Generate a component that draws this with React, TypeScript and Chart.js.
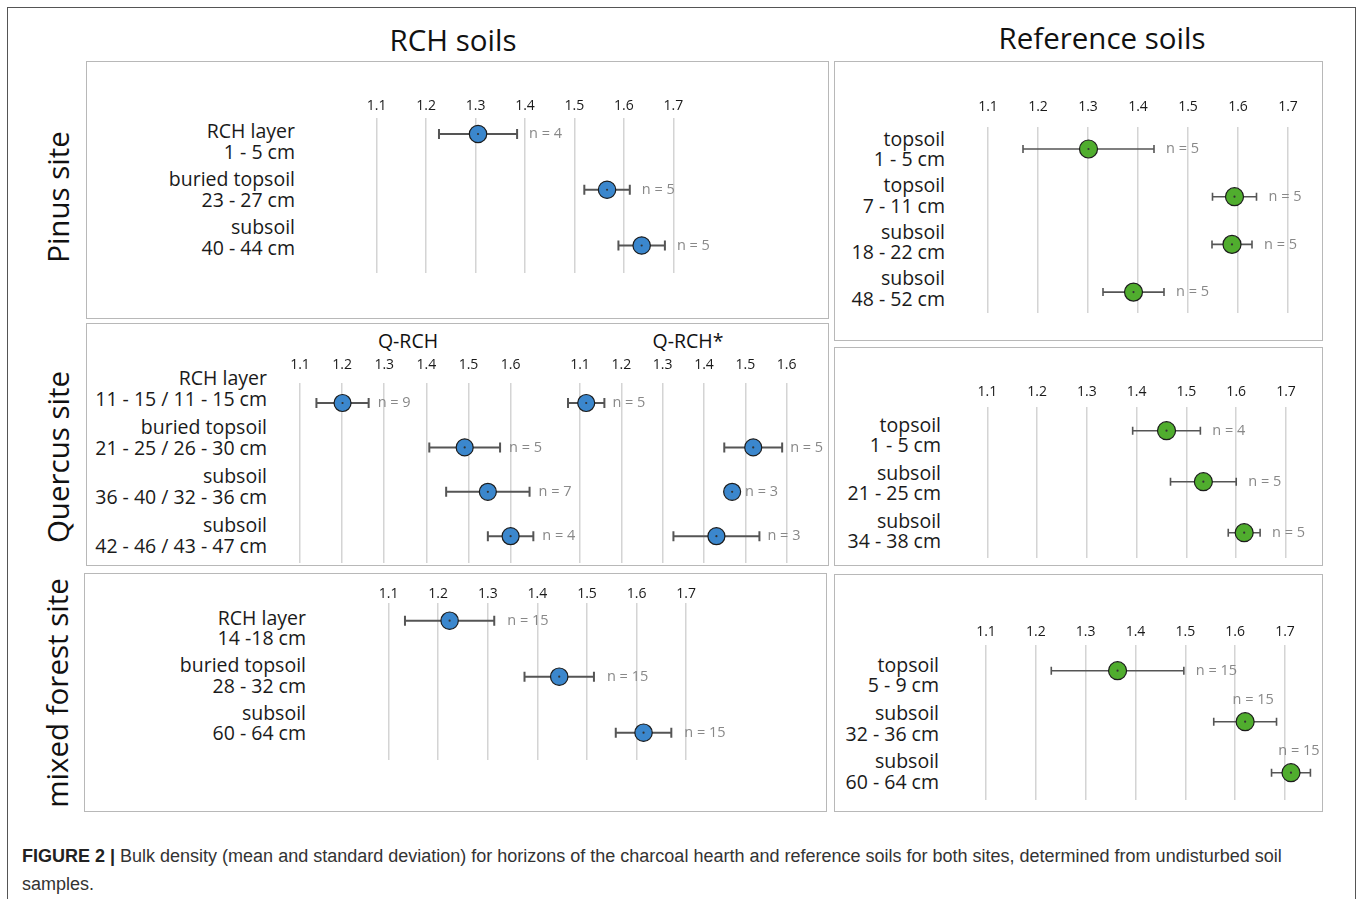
import React, { useEffect, useRef } from 'react';
import { Chart, registerables } from 'chart.js';

Chart.register(...registerables);

// ---------------- DATA ----------------
const ticks17 = [1.1, 1.2, 1.3, 1.4, 1.5, 1.6, 1.7];
const ticks16 = [1.1, 1.2, 1.3, 1.4, 1.5, 1.6];

// Pinus site – RCH soils
const pinusRchHorizons = ['RCH layer', 'buried topsoil', 'subsoil'];
const pinusRchDepths = ['1 - 5 cm', '23 - 27 cm', '40 - 44 cm'];
const pinusRchMean = [1.305, 1.566, 1.636];
const pinusRchSd = [0.079, 0.046, 0.047];
const pinusRchN = [4, 5, 5];

// Pinus site – reference soils
const pinusRefHorizons = ['topsoil', 'topsoil', 'subsoil', 'subsoil'];
const pinusRefDepths = ['1 - 5 cm', '7 - 11 cm', '18 - 22 cm', '48 - 52 cm'];
const pinusRefMean = [1.301, 1.593, 1.588, 1.391];
const pinusRefSd = [0.131, 0.044, 0.04, 0.061];
const pinusRefN = [5, 5, 5, 5];

// Quercus site – RCH soils (Q-RCH and Q-RCH*)
const quercusRchHorizons = ['RCH layer', 'buried topsoil', 'subsoil', 'subsoil'];
const quercusRchDepths = ['11 - 15 / 11 - 15 cm', '21 - 25 / 26 - 30 cm', '36 - 40 / 32 - 36 cm', '42 - 46 / 43 - 47 cm'];
const qRchMean = [1.201, 1.491, 1.546, 1.6];
const qRchSd = [0.062, 0.084, 0.099, 0.054];
const qRchN = [9, 5, 7, 4];
const qRchStarMean = [1.115, 1.519, 1.468, 1.43];
const qRchStarSd = [0.044, 0.07, 0.012, 0.104];
const qRchStarN = [5, 5, 3, 3];

// Quercus site – reference soils
const quercusRefHorizons = ['topsoil', 'subsoil', 'subsoil'];
const quercusRefDepths = ['1 - 5 cm', '21 - 25 cm', '34 - 38 cm'];
const quercusRefMean = [1.46, 1.534, 1.616];
const quercusRefSd = [0.068, 0.066, 0.032];
const quercusRefN = [4, 5, 5];

// mixed forest site – RCH soils
const mixedRchHorizons = ['RCH layer', 'buried topsoil', 'subsoil'];
const mixedRchDepths = ['14 -18 cm', '28 - 32 cm', '60 - 64 cm'];
const mixedRchMean = [1.223, 1.444, 1.614];
const mixedRchSd = [0.09, 0.07, 0.056];
const mixedRchN = [15, 15, 15];

// mixed forest site – reference soils
const mixedRefHorizons = ['topsoil', 'subsoil', 'subsoil'];
const mixedRefDepths = ['5 - 9 cm', '32 - 36 cm', '60 - 64 cm'];
const mixedRefMean = [1.364, 1.62, 1.712];
const mixedRefSd = [0.133, 0.063, 0.039];
const mixedRefN = [15, 15, 15];
const mixedRefNPos = ['right', 'above', 'above'];

// ---------------- STYLE / LAYOUT ----------------
const BLUE = '#3b87cd';
const GREEN = '#50ad2e';
const FONT = '"Open Sans", "Noto Sans", sans-serif';

type Panel = {
  mean: number[]; sd: number[]; n: number[]; nPos?: string[];
  ticks: number[]; color: string; radius: number; barW: number; cap: number; nGap: number;
  x0px: number; x1px: number; tickY: number; gridTop: number; gridBottom: number;
  rowTop: number; rowStep: number;
};

const pinusRchPanel: Panel = {
  mean: pinusRchMean, sd: pinusRchSd, n: pinusRchN, ticks: ticks17, color: BLUE, radius: 8.7, barW: 2, cap: 5, nGap: 12,
  x0px: 376.7, x1px: 673.3, tickY: 106.5, gridTop: 118, gridBottom: 273, rowTop: 134, rowStep: 55.75,
};
const pinusRefPanel: Panel = {
  mean: pinusRefMean, sd: pinusRefSd, n: pinusRefN, ticks: ticks17, color: GREEN, radius: 9, barW: 1.6, cap: 4, nGap: 12,
  x0px: 988, x1px: 1288, tickY: 106.7, gridTop: 126.7, gridBottom: 313, rowTop: 149, rowStep: 47.7,
};
const qRchPanel: Panel = {
  mean: qRchMean, sd: qRchSd, n: qRchN, ticks: ticks16, color: BLUE, radius: 8.5, barW: 2, cap: 5, nGap: 9,
  x0px: 300, x1px: 510.6, tickY: 365, gridTop: 383, gridBottom: 563, rowTop: 403, rowStep: 44.4,
};
const qRchStarPanel: Panel = {
  mean: qRchStarMean, sd: qRchStarSd, n: qRchStarN, ticks: ticks16, color: BLUE, radius: 8.5, barW: 2, cap: 5, nGap: 8,
  x0px: 580, x1px: 786.7, tickY: 365, gridTop: 383, gridBottom: 563, rowTop: 403, rowStep: 44.4,
};
const quercusRefPanel: Panel = {
  mean: quercusRefMean, sd: quercusRefSd, n: quercusRefN, ticks: ticks17, color: GREEN, radius: 9, barW: 1.6, cap: 4, nGap: 12,
  x0px: 987.3, x1px: 1286, tickY: 391.7, gridTop: 406.7, gridBottom: 558, rowTop: 430.7, rowStep: 51,
};
const mixedRchPanel: Panel = {
  mean: mixedRchMean, sd: mixedRchSd, n: mixedRchN, ticks: ticks17, color: BLUE, radius: 8.7, barW: 2, cap: 5, nGap: 13,
  x0px: 388.6, x1px: 686.2, tickY: 594, gridTop: 603, gridBottom: 760, rowTop: 620.7, rowStep: 56,
};
const mixedRefPanel: Panel = {
  mean: mixedRefMean, sd: mixedRefSd, n: mixedRefN, nPos: mixedRefNPos, ticks: ticks17, color: GREEN, radius: 9, barW: 1.6, cap: 4, nGap: 12,
  x0px: 986, x1px: 1285, tickY: 631.7, gridTop: 645, gridBottom: 800, rowTop: 670.7, rowStep: 51,
};

function DotPlot({ p }: { p: Panel }) {
  const ref = useRef<HTMLCanvasElement>(null);
  const fs = 14;
  const lh = fs * 1.2;
  const tickPad = Math.max(p.gridTop - p.tickY - lh / 2, 0);
  const axisH = lh + 2 * tickPad;
  const left = Math.round(p.x0px - 24);
  const padL = p.x0px - left;
  const w = Math.ceil(p.x1px - left + 80);
  const padR = w - (p.x1px - left);
  const top = Math.round(p.gridTop - axisH - 3);
  const padT = p.gridTop - axisH - top;
  const h = Math.ceil(p.gridBottom - top + 4);
  const padB = h - (p.gridBottom - top);
  const yMin = -(p.rowTop - p.gridTop) / p.rowStep;
  const yMax = (p.gridBottom - p.rowTop) / p.rowStep;

  useEffect(() => {
    const plugin = {
      id: 'errbars',
      beforeDatasetsDraw(chart: any) {
        const { ctx } = chart;
        const xs = chart.scales.x;
        const ys = chart.scales.y;
        ctx.save();
        ctx.strokeStyle = '#555555';
        ctx.lineWidth = p.barW;
        p.mean.forEach((m, i) => {
          const yy = ys.getPixelForValue(i);
          const xl = xs.getPixelForValue(m - p.sd[i]);
          const xr = xs.getPixelForValue(m + p.sd[i]);
          ctx.beginPath();
          ctx.moveTo(xl, yy); ctx.lineTo(xr, yy);
          ctx.moveTo(xl, yy - p.cap); ctx.lineTo(xl, yy + p.cap);
          ctx.moveTo(xr, yy - p.cap); ctx.lineTo(xr, yy + p.cap);
          ctx.stroke();
        });
        ctx.restore();
      },
      afterDatasetsDraw(chart: any) {
        const { ctx } = chart;
        const xs = chart.scales.x;
        const ys = chart.scales.y;
        ctx.save();
        p.mean.forEach((m, i) => {
          const yy = ys.getPixelForValue(i);
          const xc = xs.getPixelForValue(m);
          ctx.fillStyle = '#333';
          ctx.beginPath();
          ctx.arc(xc, yy, 1.1, 0, Math.PI * 2);
          ctx.fill();
          ctx.fillStyle = '#888888';
          ctx.font = `14.5px ${FONT}`;
          ctx.textBaseline = 'middle';
          const label = `n = ${p.n[i]}`;
          const pos = p.nPos ? p.nPos[i] : 'right';
          if (pos === 'above') {
            ctx.textAlign = 'center';
            ctx.fillText(label, xc + 8, yy - 22);
          } else {
            ctx.textAlign = 'left';
            ctx.fillText(label, xs.getPixelForValue(m + p.sd[i]) + p.nGap, yy);
          }
        });
        ctx.restore();
      },
    };
    const chart = new Chart(ref.current as HTMLCanvasElement, {
      type: 'scatter',
      data: {
        datasets: [
          {
            data: p.mean.map((m, i) => ({ x: m, y: i })),
            pointRadius: p.radius,
            pointHoverRadius: p.radius,
            backgroundColor: p.color,
            borderColor: '#1c1c1c',
            borderWidth: 1.2,
            clip: false,
          } as any,
        ],
      },
      options: {
        animation: false,
        responsive: false,
        events: [],
        layout: { autoPadding: false, padding: { left: padL, right: padR, top: padT, bottom: padB } },
        plugins: { legend: { display: false }, tooltip: { enabled: false } },
        scales: {
          x: {
            type: 'linear',
            position: 'top',
            min: p.ticks[0],
            max: p.ticks[p.ticks.length - 1],
            afterBuildTicks: (s: any) => {
              s.ticks = p.ticks.map((v) => ({ value: v }));
            },
            ticks: {
              padding: tickPad,
              font: { family: FONT, size: fs },
              color: '#1a1a1a',
              maxRotation: 0,
              autoSkip: false,
              callback: (v: any) => Number(v).toFixed(1),
            },
            grid: { color: '#d4d4d4', lineWidth: 1.5, drawTicks: false },
            border: { display: false },
          },
          y: { type: 'linear', display: false, reverse: true, min: yMin, max: yMax },
        },
      },
      plugins: [plugin],
    } as any);
    return () => chart.destroy();
  }, []);

  return (
    <canvas
      ref={ref}
      width={w}
      height={h}
      style={{ position: 'absolute', left, top, width: w, height: h }}
    />
  );
}

function RowLabels({ horizons, depths, right, y0, step }: { horizons: string[]; depths: string[]; right: number; y0: number; step: number }) {
  return (
    <>
      {horizons.map((hz, i) => (
        <div
          key={i}
          style={{
            position: 'absolute', left: right - 300, width: 300, top: y0 + i * step - 10.25,
            textAlign: 'right', fontFamily: FONT, fontSize: 19.5, lineHeight: '20.5px', color: '#1a1a1a', whiteSpace: 'nowrap',
          }}
        >
          {hz}
          <br />
          {depths[i]}
        </div>
      ))}
    </>
  );
}

function Box({ l, t, r, b }: { l: number; t: number; r: number; b: number }) {
  return (
    <div style={{ position: 'absolute', left: l, top: t, width: r - l, height: b - t, border: '1.5px solid #b8b8b8', boxSizing: 'border-box' }} />
  );
}

function Text({ cx, cy, size, children, rotate }: { cx: number; cy: number; size: number; children: any; rotate?: boolean }) {
  return (
    <div
      style={{
        position: 'absolute', left: cx - 200, top: cy - 25, width: 400, height: 50, lineHeight: '50px', textAlign: 'center',
        fontFamily: FONT, fontSize: size, color: '#111', whiteSpace: 'nowrap', transform: rotate ? 'rotate(-90deg)' : undefined,
      }}
    >
      {children}
    </div>
  );
}

export default function App() {
  return (
    <div style={{ position: 'absolute', left: 0, top: 0, width: 1358, height: 899, background: '#fff', overflow: 'hidden' }}>
      {/* outer frame */}
      <div style={{ position: 'absolute', left: 7, top: 7, width: 1349, height: 900, borderTop: '1.5px solid #555', borderLeft: '1.5px solid #555', borderRight: '1.5px solid #555', boxSizing: 'border-box' }} />

      <Text cx={453} cy={40} size={29.5}>RCH soils</Text>
      <Text cx={1102} cy={38} size={29.5}>Reference soils</Text>
      <Text cx={58} cy={197} size={29.5} rotate>Pinus site</Text>
      <Text cx={58} cy={457} size={29.5} rotate>Quercus site</Text>
      <Text cx={57} cy={693} size={29.5} rotate>mixed forest site</Text>

      <Box l={86} t={61} r={829} b={319} />
      <Box l={834} t={61} r={1323} b={341} />
      <Box l={86} t={323} r={829} b={566} />
      <Box l={834} t={347} r={1323} b={566} />
      <Box l={84} t={573} r={827} b={812} />
      <Box l={834} t={574} r={1323} b={812} />

      <Text cx={408} cy={341} size={19.5}>Q-RCH</Text>
      <Text cx={688} cy={341} size={19.5}>Q-RCH*</Text>

      <RowLabels horizons={pinusRchHorizons} depths={pinusRchDepths} right={295} y0={131.5} step={48} />
      <RowLabels horizons={pinusRefHorizons} depths={pinusRefDepths} right={945} y0={139} step={46.5} />
      <RowLabels horizons={quercusRchHorizons} depths={quercusRchDepths} right={267} y0={378.5} step={49} />
      <RowLabels horizons={quercusRefHorizons} depths={quercusRefDepths} right={941} y0={425} step={48} />
      <RowLabels horizons={mixedRchHorizons} depths={mixedRchDepths} right={306} y0={618} step={47.5} />
      <RowLabels horizons={mixedRefHorizons} depths={mixedRefDepths} right={939} y0={665} step={48.3} />

      <DotPlot p={pinusRchPanel} />
      <DotPlot p={pinusRefPanel} />
      <DotPlot p={qRchPanel} />
      <DotPlot p={qRchStarPanel} />
      <DotPlot p={quercusRefPanel} />
      <DotPlot p={mixedRchPanel} />
      <DotPlot p={mixedRefPanel} />

      <div style={{ position: 'absolute', left: 22, top: 842, fontFamily: '"Liberation Sans", Arial, sans-serif', fontSize: 18, lineHeight: '28px', color: '#333', whiteSpace: 'nowrap' }}>
        <b style={{ color: '#222' }}>FIGURE 2 |</b> Bulk density (mean and standard deviation) for horizons of the charcoal hearth and reference soils for both sites, determined from undisturbed soil
        <br />
        samples.
      </div>
    </div>
  );
}
